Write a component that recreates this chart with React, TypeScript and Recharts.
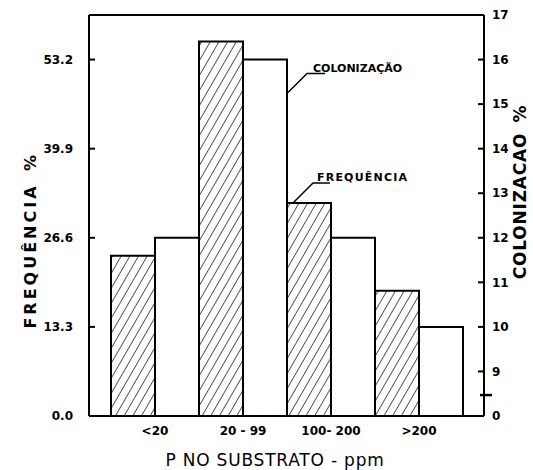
import React from "react";
import { BarChart, Bar, XAxis, YAxis, ReferenceLine, ReferenceDot } from "recharts";

const categories = ["<20", "20 - 99", "100- 200", ">200"];
const frequencia = [23.9, 55.9, 31.8, 18.7];
const colonizacao = [12, 16, 12, 10];
const freqTicks = [0, 13.3, 26.6, 39.9, 53.2];
const colTicks = [8, 8.47, 9, 10, 11, 12, 13, 14, 15, 16, 17];

const FREQ_MAX = 59.85;
const COL_MIN = 8;
const COL_MAX = 17;

const data = categories.map((name, i) => ({
  name,
  frequencia: frequencia[i],
  colonizacao: colonizacao[i],
}));

const FONT = "'DejaVu Sans', sans-serif";

const LeftTick = ({ x, y, payload }: any) => (
  <g>
    <line x1={x} y1={y} x2={x + 6} y2={y} stroke="#000" strokeWidth={2} />
    <text x={x - 16} y={y} dy="0.35em" textAnchor="end" fontFamily={FONT} fontWeight="bold" fontSize={12} fill="#000">
      {Number(payload.value).toFixed(1)}
    </text>
  </g>
);

const RightTick = ({ x, y, payload }: any) => {
  const v = payload.value;
  if (v !== COL_MIN && v % 1 !== 0) {
    // axis break mark
    return <line x1={x - 4} y1={y} x2={x + 8} y2={y} stroke="#000" strokeWidth={2.5} />;
  }
  return (
    <g>
      {v !== COL_MIN && v !== COL_MAX && (
        <line x1={x} y1={y} x2={x - 6} y2={y} stroke="#000" strokeWidth={2} />
      )}
      <text x={x + 8} y={y} dy="0.35em" textAnchor="start" fontFamily={FONT} fontWeight="bold" fontSize={12} fill="#000">
        {v === COL_MIN ? "0" : v}
      </text>
    </g>
  );
};

const LeftTitle = ({ viewBox }: any) => {
  const x = viewBox.x + 30;
  return (
    <g fontFamily={FONT} fontWeight="bold" fontSize={16} fill="#000">
      <text x={x} y={256} transform={`rotate(-90 ${x} 256)`} textAnchor="middle" dominantBaseline="central" letterSpacing={3}>
        FREQUÊNCIA
      </text>
      <text x={x} y={163} transform={`rotate(-90 ${x} 163)`} textAnchor="middle" dominantBaseline="central">
        %
      </text>
    </g>
  );
};

const RightTitle = ({ viewBox }: any) => {
  const x = viewBox.x + 36;
  return (
    <g fontFamily={FONT} fontWeight="bold" fontSize={17} fill="#000">
      <text x={x} y={206} transform={`rotate(-90 ${x} 206)`} textAnchor="middle" dominantBaseline="central" letterSpacing={0.8}>
        COLONIZACAO
      </text>
      <text x={x} y={114} transform={`rotate(-90 ${x} 114)`} textAnchor="middle" dominantBaseline="central">
        %
      </text>
    </g>
  );
};

const BottomTitle = ({ viewBox }: any) => (
  <text x={275} y={viewBox.y + 44} textAnchor="middle" dominantBaseline="central" fontFamily={FONT} fontSize={17} fill="#000" letterSpacing={0.8}>
    P NO SUBSTRATO - ppm
  </text>
);

const ColNote = ({ cx, cy }: any) => (
  <g>
    <polyline points={`${cx + 45},${cy + 33} ${cx + 64},${cy + 14} ${cx + 82},${cy + 14}`} fill="none" stroke="#000" strokeWidth={1.5} />
    <text x={cx + 70} y={cy + 12} fontFamily={FONT} fontWeight="bold" fontSize={11} fill="#000">
      COLONIZAÇÃO
    </text>
  </g>
);

const FreqNote = ({ cx, cy }: any) => (
  <g>
    <polyline points={`${cx - 38},${cy} ${cx - 18},${cy - 20} ${cx - 1},${cy - 20}`} fill="none" stroke="#000" strokeWidth={1.5} />
    <text x={cx - 14} y={cy - 22} fontFamily={FONT} fontWeight="bold" fontSize={11} fill="#000" letterSpacing={1.2}>
      FREQUÊNCIA
    </text>
  </g>
);

export default function App() {
  return (
    <div style={{ position: "absolute", left: 0, top: 0, background: "#fff" }}>
      <BarChart
        width={533}
        height={470}
        data={data}
        margin={{ top: 15, right: 0, left: 0, bottom: 0 }}
        barCategoryGap={0}
        barGap={0}
      >
        <defs>
          <pattern id="hatch" width={7.5} height={10} patternUnits="userSpaceOnUse" patternTransform="rotate(30)">
            <line x1={0} y1={0} x2={0} y2={10} stroke="#000" strokeWidth={1.3} />
          </pattern>
        </defs>
        <XAxis
          dataKey="name"
          height={54}
          padding={{ left: 22, right: 21 }}
          tickLine={false}
          tickMargin={4}
          axisLine={{ stroke: "#000", strokeWidth: 2 }}
          tick={{ fill: "#000", fontFamily: FONT, fontWeight: "bold", fontSize: 12 }}
          label={{ content: BottomTitle }}
        />
        <YAxis
          yAxisId="left"
          width={89}
          domain={[0, FREQ_MAX]}
          ticks={freqTicks}
          interval={0}
          tickSize={0}
          tickMargin={0}
          tickLine={false}
          axisLine={{ stroke: "#000", strokeWidth: 2 }}
          tick={LeftTick}
          label={{ content: LeftTitle }}
        />
        <YAxis
          yAxisId="right"
          orientation="right"
          width={49}
          domain={[COL_MIN, COL_MAX]}
          ticks={colTicks}
          interval={0}
          allowDataOverflow
          tickSize={0}
          tickMargin={0}
          tickLine={false}
          axisLine={{ stroke: "#000", strokeWidth: 2 }}
          tick={RightTick}
          label={{ content: RightTitle }}
        />
        <ReferenceLine yAxisId="left" y={FREQ_MAX} stroke="#000" strokeWidth={2} />
        <Bar yAxisId="left" dataKey="frequencia" fill="url(#hatch)" stroke="#000" strokeWidth={2} isAnimationActive={false} />
        <Bar yAxisId="right" dataKey="colonizacao" fill="#fff" stroke="#000" strokeWidth={2} isAnimationActive={false} />
        <ReferenceDot yAxisId="right" x="20 - 99" y={16} shape={ColNote} />
        <ReferenceDot yAxisId="left" x="100- 200" y={31.8} shape={FreqNote} />
      </BarChart>
    </div>
  );
}
